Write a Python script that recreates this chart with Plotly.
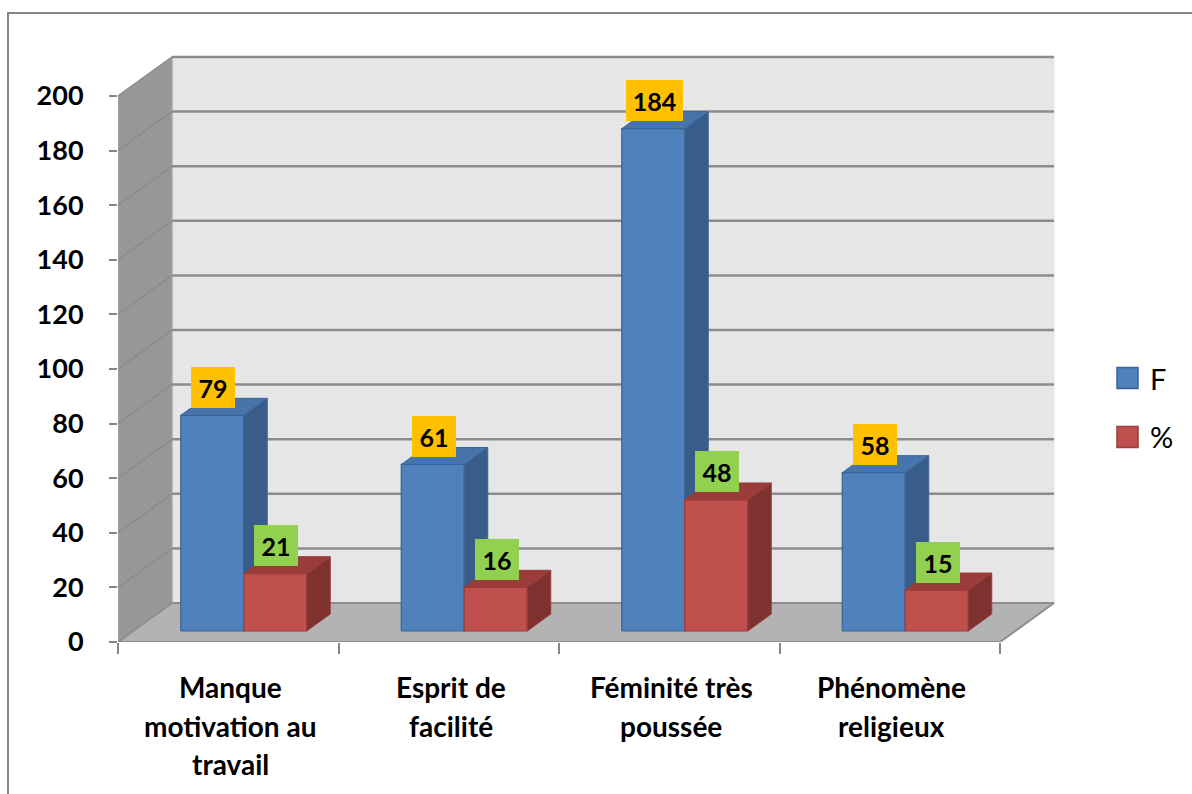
import plotly.graph_objects as go

# ---------------- data ----------------
categories = ["Manque\nmotivation au\ntravail", "Esprit de\nfacilité",
              "Féminité très\npoussée", "Phénomène\nreligieux"]
series_names = ["F", "%"]
f_values = [79, 61, 184, 58]
pct_values = [21, 16, 48, 15]
y_ticks = list(range(0, 201, 20))

# ---------------- geometry (data units) ----------------
W, H = 1192, 794
ML, MR, MT, MB = 118, 137, 53, 152
PLOT_W = W - ML - MR
PLOT_H = H - MT - MB
X_RANGE = [-0.5, -0.5 + PLOT_W / 220.5]
PX_PER_Y = 546 / 200.0
Y_RANGE = [0, PLOT_H / PX_PER_Y]

WALL_DX = 54 / 220.5
WALL_DY = 39 / PX_PER_Y
BAR_W = 0.2857
BAR_SHIFT = 0.0703
BAR_BASE = 11 / PX_PER_Y
BAR_DX = 23.5 / 220.5
BAR_DY = 17 / PX_PER_Y

X0 = X_RANGE[0]
X1 = X0 + len(categories)
YTOP = y_ticks[-1]

BLUE = dict(front="#4F81BD", side="#385D8A", top="#4674AB", edge="#3B6496")
RED = dict(front="#C0504D", side="#7F3130", top="#9A3C3A", edge="#9B3D3B")

fig = go.Figure()


def poly_trace(polys, fill, edge, width=1):
    xs, ys = [], []
    for p in polys:
        for (x, y) in p + [p[0]]:
            xs.append(x)
            ys.append(y)
        xs.append(None)
        ys.append(None)
    return go.Scatter(x=xs, y=ys, mode="lines", fill="toself", fillcolor=fill,
                      line=dict(color=edge, width=width), hoverinfo="skip",
                      showlegend=False)


def seg_trace(segs, color, width):
    xs, ys = [], []
    for (a, b) in segs:
        xs += [a[0], b[0], None]
        ys += [a[1], b[1], None]
    return go.Scatter(x=xs, y=ys, mode="lines", line=dict(color=color, width=width),
                      hoverinfo="skip", showlegend=False)


# walls and floor
side_wall = [(X0, 0), (X0, YTOP), (X0 + WALL_DX, YTOP + WALL_DY), (X0 + WALL_DX, WALL_DY)]
back_wall = [(X0 + WALL_DX, WALL_DY), (X0 + WALL_DX, YTOP + WALL_DY),
             (X1 + WALL_DX, YTOP + WALL_DY), (X1 + WALL_DX, WALL_DY)]
floor = [(X0, 0), (X1, 0), (X1 + WALL_DX, WALL_DY), (X0 + WALL_DX, WALL_DY)]
fig.add_trace(poly_trace([back_wall], "#E6E6E6", "#E6E6E6"))
fig.add_trace(poly_trace([side_wall], "#979797", "#A8A8A8", 1.5))
fig.add_trace(poly_trace([floor], "#B3B3B3", "#8E8E8E", 2))

# gridlines on back and side wall
grid_back = [((X0 + WALL_DX, k + WALL_DY), (X1 + WALL_DX, k + WALL_DY)) for k in y_ticks[1:]]
grid_side = [((X0, k), (X0 + WALL_DX, k + WALL_DY)) for k in y_ticks[1:]]
fig.add_trace(seg_trace(grid_back, "#8C8C8C", 2.5))
fig.add_trace(seg_trace(grid_side, "#8A8A8A", 1.2))


def faces(values, offset):
    fr, sd, tp = [], [], []
    for i, v in enumerate(values):
        xl = i + BAR_SHIFT + offset
        xr = xl + BAR_W
        b = BAR_BASE
        t = b + v
        fr.append([(xl, b), (xr, b), (xr, t), (xl, t)])
        sd.append([(xr, b), (xr + BAR_DX, b + BAR_DY), (xr + BAR_DX, t + BAR_DY), (xr, t)])
        tp.append([(xl, t), (xl + BAR_DX, t + BAR_DY), (xr + BAR_DX, t + BAR_DY), (xr, t)])
    return fr, sd, tp


for values, offset, col in [(f_values, -BAR_W, BLUE), (pct_values, 0.0, RED)]:
    fr, sd, tp = faces(values, offset)
    fig.add_trace(poly_trace(fr, col["front"], col["edge"], 1.2))
    fig.add_trace(poly_trace(sd, col["side"], col["edge"], 1))
    fig.add_trace(poly_trace(tp, col["top"], col["edge"], 1))

# data labels
for values, offset, bg in [(f_values, -BAR_W, "#FFC000"), (pct_values, 0.0, "#92D050")]:
    for i, v in enumerate(values):
        txt = str(v)
        fig.add_annotation(x=i + BAR_SHIFT + offset + BAR_W / 2 + 0.005, y=BAR_BASE + v,
                           text=txt, showarrow=False, yanchor="middle", yshift=28,
                           bgcolor=bg, borderpad=0, borderwidth=0,
                           width=18 + 13 * len(txt), height=41,
                           font=dict(family="Lato", size=25, color="black", weight="bold"))

# category labels (one annotation per line)
line_shifts = [-45, -84, -122]
for i, cat in enumerate(categories):
    for j, line in enumerate(cat.split("\n")):
        fig.add_annotation(x=i + 0.01, y=0, text=line, showarrow=False, yanchor="middle",
                           yshift=line_shifts[j],
                           font=dict(family="Lato", size=28, color="black", weight="bold"))

# custom legend
def px2paper_x(px):
    return (px - ML) / PLOT_W


def px2paper_y(py):
    return (H - MB - py) / PLOT_H


legend_items = [(series_names[0], BLUE, 378), (series_names[1], RED, 437)]
for name, col, cy in legend_items:
    fig.add_shape(type="rect", xref="paper", yref="paper",
                  x0=px2paper_x(1117), x1=px2paper_x(1138),
                  y0=px2paper_y(cy + 10.5), y1=px2paper_y(cy - 10.5),
                  fillcolor=col["front"], line=dict(color=col["edge"], width=1.5))
    fig.add_annotation(xref="paper", yref="paper", x=px2paper_x(1148), y=px2paper_y(cy),
                       text=name, showarrow=False, xanchor="left", yanchor="middle",
                       font=dict(family="Lato", size=29, color="black"))

# outer chart border
fig.add_shape(type="rect", xref="paper", yref="paper",
              x0=px2paper_x(8), x1=px2paper_x(1260), y0=px2paper_y(860), y1=px2paper_y(13),
              line=dict(color="#868686", width=2), fillcolor="rgba(0,0,0,0)", layer="below")

fig.update_layout(
    width=W, height=H,
    margin=dict(l=ML, r=MR, t=MT, b=MB, pad=0),
    paper_bgcolor="white", plot_bgcolor="white",
    showlegend=False,
    xaxis=dict(range=X_RANGE, showgrid=False, zeroline=False, showline=False,
               tickvals=[X0 + k for k in range(len(categories) + 1)],
               ticks="outside", ticklen=11, tickwidth=2, tickcolor="#868686",
               showticklabels=False, fixedrange=True),
    yaxis=dict(range=Y_RANGE, showgrid=False, zeroline=False, showline=False,
               tickvals=y_ticks, ticks="outside", ticklen=8, tickwidth=2,
               tickcolor="#868686", ticklabelstandoff=20,
               tickfont=dict(family="Lato", size=27, color="black", weight="bold"),
               fixedrange=True),
)

fig.write_html("out.html")
